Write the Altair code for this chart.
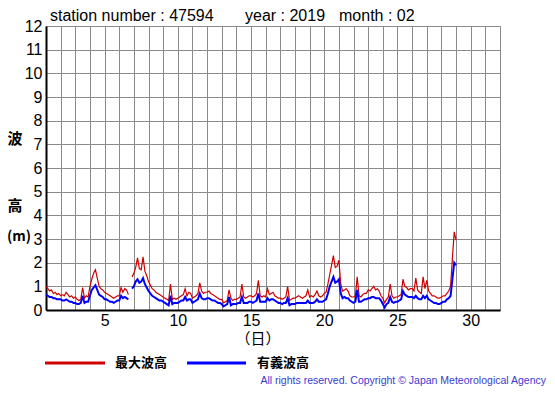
import altair as alt
import pandas as pd

# ---- data: 3-hourly readings (8 per day) starting at day 1.0 ----
start_day = 1.0
per_day = 8

max_wave = [
    1.0, 0.9, 0.8, 0.85, 0.7, 0.75, 0.65, 0.7,      # d1
    0.6, 0.65, 0.6, 0.75, 0.65, 0.55, 0.6, 0.5,     # d2
    0.55, 0.45, 0.4, 0.45, 0.95, 0.5, 0.6, 0.55,    # d3
    1.0, 1.3, 1.55, 1.7, 1.35, 1.0, 0.9, 0.85,      # d4
    0.75, 0.7, 0.65, 0.6, 0.55, 0.5, 0.55, 0.6,     # d5
    0.6, 0.95, 0.75, 0.9, 0.85, 0.65, None, 1.4,    # d6
    1.55, 1.8, 2.2, 1.75, 1.7, 2.25, 1.65, 1.45,    # d7
    1.2, 1.05, 0.9, 0.85, 0.75, 0.7, 0.65, 0.6,     # d8
    0.55, 0.5, 0.45, 0.4, 1.1, 0.45, 0.5, 0.45,     # d9
    0.5, 0.55, 0.6, 0.65, 0.9, 0.6, 0.75, 0.7,      # d10
    0.5, 0.55, 0.6, 0.7, 1.15, 0.8, 0.7, 0.75,      # d11
    0.75, 0.8, 0.7, 0.65, 0.6, 0.55, 0.5, 0.45,     # d12
    0.45, 0.3, 0.35, 0.4, 0.85, 0.5, 0.4, 0.45,     # d13
    0.45, 0.5, 0.55, 1.1, 0.55, 0.5, 0.55, 0.6,     # d14
    0.6, 0.55, 0.6, 0.7, 1.25, 0.6, 0.55, 0.6,      # d15
    0.55, 0.9, 0.65, 0.7, 0.75, 0.6, 0.55, 0.5,     # d16
    0.5, 0.45, 0.5, 0.55, 1.0, 0.4, 0.45, 0.5,      # d17
    0.5, 0.55, 0.6, 0.55, 0.5, 0.55, 0.6, 0.85,     # d18
    0.55, 0.6, 0.55, 0.65, 0.8, 0.6, 0.55, 0.6,     # d19
    0.7, 0.75, 1.1, 1.5, 1.9, 2.3, 1.8, 1.85,       # d20
    2.1, 1.1, 0.8, 0.85, 0.9, 0.8, 0.6, 0.55,       # d21
    0.55, 0.6, 1.4, 0.6, 0.55, 0.65, 0.7, 0.7,      # d22
    0.85, 0.8, 0.9, 1.0, 0.85, 0.9, 0.8, 0.6,       # d23
    0.5, 0.3, 0.45, 0.55, 1.1, 0.6, 0.5, 0.55,      # d24
    0.55, 0.6, 0.65, 1.3, 1.0, 0.95, 0.85, 0.9,     # d25
    0.9, 0.8, 1.35, 0.85, 0.75, 0.7, 1.4, 0.9,      # d26
    1.25, 0.8, 0.7, 0.6, 0.6, 0.55, 0.5, 0.5,       # d27
    0.55, 0.6, 0.6, 0.7, 0.8, 1.0, 2.2, 3.3,        # d28
    2.95,                                            # d29 00h
]

sig_wave = [
    0.65, 0.6, 0.55, 0.55, 0.5, 0.5, 0.45, 0.45,    # d1
    0.45, 0.4, 0.4, 0.45, 0.4, 0.35, 0.35, 0.3,     # d2
    0.3, 0.25, 0.25, 0.3, 0.6, 0.3, 0.35, 0.35,     # d3
    0.6, 0.85, 0.95, 1.05, 0.85, 0.65, 0.6, 0.55,   # d4
    0.45, 0.45, 0.4, 0.35, 0.35, 0.3, 0.35, 0.4,    # d5
    0.4, 0.6, 0.5, 0.55, 0.5, 0.45, None, 0.9,      # d6
    1.0, 1.2, 1.3, 1.15, 1.2, 1.35, 1.1, 0.95,      # d7
    0.8, 0.7, 0.6, 0.55, 0.5, 0.45, 0.4, 0.4,       # d8
    0.35, 0.3, 0.25, 0.2, 0.6, 0.25, 0.3, 0.3,      # d9
    0.3, 0.35, 0.4, 0.4, 0.55, 0.4, 0.45, 0.45,     # d10
    0.3, 0.35, 0.4, 0.45, 0.7, 0.5, 0.45, 0.45,     # d11
    0.5, 0.5, 0.45, 0.4, 0.4, 0.35, 0.3, 0.3,       # d12
    0.25, 0.15, 0.2, 0.25, 0.55, 0.2, 0.25, 0.25,   # d13
    0.25, 0.3, 0.3, 0.55, 0.3, 0.3, 0.3, 0.35,      # d14
    0.35, 0.3, 0.35, 0.4, 0.7, 0.35, 0.35, 0.35,    # d15
    0.35, 0.5, 0.4, 0.45, 0.45, 0.4, 0.35, 0.3,     # d16
    0.3, 0.25, 0.3, 0.3, 0.5, 0.2, 0.25, 0.25,      # d17
    0.25, 0.3, 0.3, 0.3, 0.3, 0.3, 0.3, 0.4,        # d18
    0.3, 0.3, 0.3, 0.35, 0.45, 0.35, 0.35, 0.35,    # d19
    0.4, 0.45, 0.7, 1.0, 1.2, 1.4, 1.15, 1.2,       # d20
    1.3, 0.7, 0.5, 0.55, 0.5, 0.5, 0.4, 0.35,       # d21
    0.3, 0.35, 0.85, 0.35, 0.35, 0.4, 0.45, 0.45,   # d22
    0.5, 0.5, 0.55, 0.55, 0.5, 0.5, 0.5, 0.4,       # d23
    0.25, 0.1, 0.25, 0.3, 0.55, 0.35, 0.3, 0.35,    # d24
    0.35, 0.4, 0.45, 0.8, 0.65, 0.6, 0.55, 0.55,    # d25
    0.55, 0.5, 0.6, 0.5, 0.45, 0.45, 0.6, 0.5,      # d26
    0.6, 0.45, 0.4, 0.35, 0.3, 0.3, 0.25, 0.25,     # d27
    0.3, 0.35, 0.35, 0.45, 0.5, 0.6, 1.3, 2.0,      # d28
    1.9,                                             # d29 00h
]

series_names = ["最大波高", "有義波高"]
series_colors = ["#d00000", "#0000ff"]

x_grid = list(range(1, 33))
y_grid = list(range(0, 13))

rows = []
for name, vals in zip(series_names, [max_wave, sig_wave]):
    for i, v in enumerate(vals):
        rows.append({"day": start_day + i / per_day, "h": v, "series": name})
df = pd.DataFrame(rows)

W, H = 454, 284
FONT = "Liberation Sans"
CJK = "Noto Sans CJK JP"

xs = alt.X("day:Q", scale=alt.Scale(domain=[1, 32], nice=False, zero=False),
           axis=alt.Axis(values=x_grid, title=None, ticks=False, labelPadding=2,
                         labelExpr="datum.value % 5 == 0 ? datum.label : ''",
                         labelFontSize=16, labelFont=FONT, labelColor="#000",
                         gridColor="#8a8a8a", gridWidth=1, gridOpacity=1,
                         domainColor="#000", domainWidth=2))
ys = alt.Y("h:Q", scale=alt.Scale(domain=[0, 12], nice=False),
           axis=alt.Axis(values=y_grid, title=None, ticks=False, labelPadding=4,
                         labelFontSize=16, labelFont=FONT, labelColor="#000",
                         gridColor="#8a8a8a", gridWidth=1, gridOpacity=1,
                         domainColor="#000", domainWidth=2))

red = alt.Chart(df).transform_filter(alt.datum.series == series_names[0]).mark_line(
    color=series_colors[0], strokeWidth=1.2).encode(x=xs, y=ys)
blue = alt.Chart(df).transform_filter(alt.datum.series == series_names[1]).mark_line(
    color=series_colors[1], strokeWidth=2).encode(x=xs, y=ys)

# annotations (pixel positions relative to plot area)
ann = pd.DataFrame([
    {"px": 4, "py": -5, "t": "station number : 47594"},
    {"px": 199, "py": -5, "t": "year : 2019"},
    {"px": 293, "py": -5, "t": "month : 02"},
])
ann_center = pd.DataFrame([
    {"px": -31, "py": 113, "t": "波", "s": 15},
    {"px": -31, "py": 180, "t": "高", "s": 15},
    {"px": -27, "py": 211, "t": "(m)", "s": 14},
    {"px": 212, "py": 313, "t": "（日）", "s": 15},
])
ann_left = pd.DataFrame([
    {"px": 69, "py": 337, "t": series_names[0], "s": 13},
    {"px": 211, "py": 337, "t": series_names[1], "s": 13},
])

title_txt = alt.Chart(ann).mark_text(baseline="alphabetic", align="left", font=FONT,
                                     fontSize=16, color="#000").encode(
    x=alt.X("px:Q", scale=None), y=alt.Y("py:Q", scale=None), text="t:N")

cjk_center_b = alt.Chart(ann_center.iloc[:3]).mark_text(baseline="middle", font=CJK, fontWeight="bold",
                                                       align="center", color="#000").encode(
    x=alt.X("px:Q", scale=None), y=alt.Y("py:Q", scale=None), text="t:N",
    size=alt.Size("s:Q", scale=None))
cjk_center_n = alt.Chart(ann_center.iloc[3:]).mark_text(baseline="middle", font=CJK,
                                                       align="center", color="#000").encode(
    x=alt.X("px:Q", scale=None), y=alt.Y("py:Q", scale=None), text="t:N",
    size=alt.Size("s:Q", scale=None))
cjk_left = alt.Chart(ann_left).mark_text(baseline="middle", font=CJK, fontWeight="bold",
                                         align="left", color="#000").encode(
    x=alt.X("px:Q", scale=None), y=alt.Y("py:Q", scale=None), text="t:N",
    size=alt.Size("s:Q", scale=None))

leg = pd.DataFrame([
    {"x1": -1, "x2": 59, "y": 337, "c": series_colors[0]},
    {"x1": 141, "x2": 200, "y": 337, "c": series_colors[1]},
])
leg_lines = alt.Chart(leg).mark_rule(strokeWidth=3).encode(
    x=alt.X("x1:Q", scale=None), x2="x2:Q", y=alt.Y("y:Q", scale=None),
    color=alt.Color("c:N", scale=None))

copy = alt.Chart(pd.DataFrame([{"px": 500, "py": 355, "t": "All rights reserved. Copyright © Japan Meteorological Agency"}])).mark_text(
    align="right", baseline="middle", font=FONT, fontSize=10.5, color="#3a3ad0").encode(
    x=alt.X("px:Q", scale=None), y=alt.Y("py:Q", scale=None), text="t:N")

chart = alt.layer(red, blue, title_txt, cjk_center_b, cjk_center_n, cjk_left, leg_lines, copy).properties(
    width=W, height=H,
    autosize=alt.AutoSizeParams(type="none"),
    padding={"left": 38, "top": 18, "right": 47, "bottom": 77},
).configure_view(stroke="#000", strokeWidth=1.5).configure(background="white")

chart.save("out.html", embed_options={"renderer": "svg", "actions": False})
